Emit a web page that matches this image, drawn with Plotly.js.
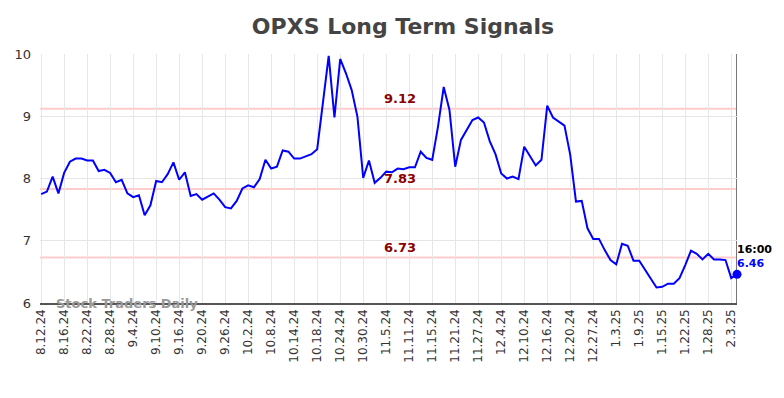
<!DOCTYPE html>
<html>
<head>
<meta charset="utf-8">
<script src="https://cdn.plot.ly/plotly-3.0.1.min.js"></script>
<style>html,body{margin:0;padding:0;background:#fff;}#chart{width:784px;height:398px;}</style>
</head>
<body>
<div id="chart"></div>
<script>
// Trading dates (categories); last entry is the intraday 16:00 point
const dates = [
 "8.12.24","8.13.24","8.14.24","8.15.24","8.16.24","8.19.24","8.20.24","8.21.24","8.22.24","8.23.24",
 "8.26.24","8.27.24","8.28.24","8.29.24","8.30.24",
 "9.3.24","9.4.24","9.5.24","9.6.24","9.9.24","9.10.24","9.11.24","9.12.24","9.13.24","9.16.24",
 "9.17.24","9.18.24","9.19.24","9.20.24","9.23.24","9.24.24","9.25.24","9.26.24","9.27.24","9.30.24",
 "10.1.24","10.2.24","10.3.24","10.4.24","10.7.24","10.8.24","10.9.24","10.10.24","10.11.24","10.14.24",
 "10.15.24","10.16.24","10.17.24","10.18.24","10.21.24","10.22.24","10.23.24","10.24.24","10.25.24","10.28.24",
 "10.29.24","10.30.24","10.31.24",
 "11.1.24","11.4.24","11.5.24","11.6.24","11.7.24","11.8.24","11.11.24","11.12.24","11.13.24","11.14.24",
 "11.15.24","11.18.24","11.19.24","11.20.24","11.21.24","11.22.24","11.25.24","11.26.24","11.27.24","11.29.24",
 "12.2.24","12.3.24","12.4.24","12.5.24","12.6.24","12.9.24","12.10.24","12.11.24","12.12.24","12.13.24",
 "12.16.24","12.17.24","12.18.24","12.19.24","12.20.24","12.23.24","12.24.24","12.26.24","12.27.24","12.30.24",
 "12.31.24",
 "1.2.25","1.3.25","1.6.25","1.7.25","1.8.25","1.9.25","1.10.25","1.13.25","1.14.25","1.15.25",
 "1.16.25","1.17.25","1.21.25","1.22.25","1.23.25","1.24.25","1.27.25","1.28.25","1.29.25","1.30.25",
 "1.31.25","2.3.25","16:00"
];
const prices = [
 7.75,7.79,8.03,7.76,8.09,8.27,8.32,8.32,8.29,8.29,
 8.12,8.14,8.09,7.94,7.98,7.76,7.70,7.73,7.41,7.57,
 7.96,7.94,8.07,8.26,7.98,8.10,7.72,7.75,7.66,7.71,
 7.76,7.66,7.54,7.52,7.64,7.84,7.89,7.86,7.99,8.30,
 8.16,8.19,8.45,8.43,8.32,8.32,8.35,8.39,8.47,9.25,
 9.97,8.98,9.92,9.69,9.42,8.99,8.01,8.29,7.93,8.01,
 8.11,8.10,8.16,8.15,8.18,8.18,8.43,8.33,8.30,8.83,
 9.47,9.10,8.19,8.62,8.79,8.94,8.98,8.90,8.60,8.39,
 8.08,8.00,8.03,7.99,8.51,8.35,8.21,8.30,9.17,8.98,
 8.91,8.85,8.38,7.63,7.64,7.20,7.03,7.03,6.85,6.69,
 6.62,6.95,6.92,6.68,6.68,6.53,6.38,6.25,6.26,6.31,
 6.31,6.40,6.61,6.84,6.79,6.70,6.79,6.70,6.70,6.69,
 6.40,6.46
];
const tickLabels = ["8.12.24","8.16.24","8.22.24","8.28.24","9.4.24","9.10.24","9.16.24","9.20.24","9.26.24",
 "10.2.24","10.8.24","10.14.24","10.18.24","10.24.24","10.30.24","11.5.24","11.11.24","11.15.24","11.21.24",
 "11.27.24","12.4.24","12.10.24","12.16.24","12.20.24","12.27.24","1.3.25","1.9.25","1.15.25","1.22.25",
 "1.28.25","2.3.25"];
const levels = [9.12, 7.83, 6.73];
const levelLabels = ["9.12", "7.83", "6.73"];
const lastLabel = "16:00";
const lastValue = 6.46;

const lastCat = dates[dates.length - 1];

const traces = [
 {x: dates, y: prices, type: "scatter", mode: "lines",
  line: {color: "#0000ff", width: 2}, hoverinfo: "skip"},
 {x: [lastCat], y: [lastValue], type: "scatter", mode: "markers", cliponaxis: false,
  marker: {color: "#0000ff", size: 9}, hoverinfo: "skip"}
];

const shapes = levels.map(v => ({type: "line", xref: "paper", x0: 0, x1: 1, yref: "y", y0: v, y1: v,
  line: {color: "#ffcccc", width: 2}, layer: "below"}));
shapes.push({type: "line", xref: "x", x0: lastCat, x1: lastCat, yref: "paper", y0: 0, y1: 1,
  line: {color: "#777777", width: 2}, layer: "below"});

const annotations = levels.map((v, i) => ({x: "11.7.24", y: v, xref: "x", yref: "y",
  text: "<b>" + levelLabels[i] + "</b>", showarrow: false, xanchor: "center", yanchor: "bottom",
  xshift: 2, yshift: 1, font: {family: "DejaVu Sans", size: 13, color: "#8b0000"}}));
annotations.push({x: lastCat, y: lastValue, xref: "x", yref: "y", text: "<b>" + lastLabel + "</b>",
  showarrow: false, xanchor: "left", yanchor: "middle", xshift: -2, yshift: 25,
  font: {family: "DejaVu Sans", size: 11, color: "#000000"}});
annotations.push({x: lastCat, y: lastValue, xref: "x", yref: "y", text: "<b>" + lastValue.toFixed(2) + "</b>",
  showarrow: false, xanchor: "left", yanchor: "middle", xshift: -2, yshift: 11,
  font: {family: "DejaVu Sans", size: 11, color: "#0000ff"}});
annotations.push({x: 0.02, y: 0, xref: "paper", yref: "paper", text: "<b>Stock Traders Daily</b>",
  showarrow: false, xanchor: "left", yanchor: "middle",
  font: {family: "DejaVu Sans", size: 13, color: "#999999"}});

const layout = {
 width: 784, height: 398,
 margin: {l: 40, r: 47, t: 54, b: 95},
 paper_bgcolor: "#ffffff", plot_bgcolor: "#ffffff",
 showlegend: false,
 title: {text: "<b>OPXS Long Term Signals</b>", x: 0.514, xanchor: "center", y: 0.935, yanchor: "middle",
  font: {family: "DejaVu Sans", size: 22, color: "#444444"}},
 xaxis: {type: "category", categoryorder: "array", categoryarray: dates,
  range: [-0.2, dates.length - 1], tickmode: "array", tickvals: tickLabels, ticktext: tickLabels,
  tickangle: -90, tickfont: {family: "DejaVu Sans", size: 12, color: "#333333"},
  showgrid: true, gridcolor: "#e6e6e6", gridwidth: 1,
  showline: true, linecolor: "#555555", linewidth: 1.5, ticks: "", zeroline: false, fixedrange: true},
 yaxis: {range: [6, 10], tickvals: [6, 7, 8, 9, 10], ticks: "", ticklabelstandoff: 8,
  tickfont: {family: "DejaVu Sans", size: 13, color: "#333333"},
  showgrid: true, gridcolor: "#e6e6e6", gridwidth: 1, zeroline: false, showline: false, fixedrange: true},
 shapes: shapes,
 annotations: annotations
};

Plotly.newPlot("chart", traces, layout, {displayModeBar: false, staticPlot: true});
</script>
</body>
</html>
